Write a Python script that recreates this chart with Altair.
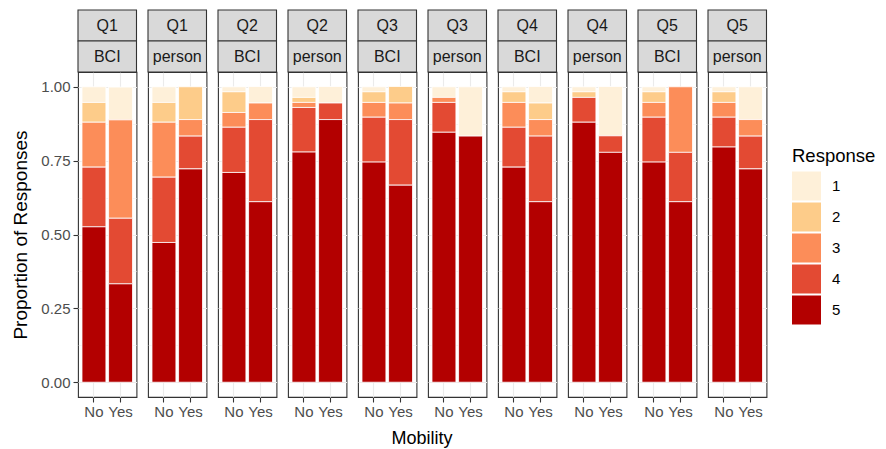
import altair as alt
import pandas as pd

questions = ["Q1", "Q1", "Q2", "Q2", "Q3", "Q3", "Q4", "Q4", "Q5", "Q5"]
sources = ["BCI", "person", "BCI", "person", "BCI", "person", "BCI", "person", "BCI", "person"]
mobility_levels = ["No", "Yes"]
responses = ["1", "2", "3", "4", "5"]
colors = ["#FEF0D9", "#FDCC8A", "#FC8D59", "#E34A33", "#B30000"]

# Proportions for Mobility = No, one value per panel
no_r1 = [0.053, 0.053, 0.017, 0.036, 0.017, 0.036, 0.017, 0.017, 0.017, 0.017]
no_r2 = [0.067, 0.067, 0.070, 0.017, 0.036, 0.000, 0.036, 0.019, 0.036, 0.036]
no_r3 = [0.152, 0.186, 0.050, 0.017, 0.050, 0.017, 0.084, 0.000, 0.050, 0.050]
no_r4 = [0.202, 0.221, 0.153, 0.151, 0.152, 0.101, 0.135, 0.084, 0.152, 0.101]
no_r5 = [0.526, 0.473, 0.710, 0.779, 0.745, 0.846, 0.728, 0.880, 0.745, 0.796]

# Proportions for Mobility = Yes, one value per panel
yes_r1 = [0.111, 0.000, 0.056, 0.056, 0.000, 0.167, 0.056, 0.167, 0.000, 0.111]
yes_r2 = [0.000, 0.111, 0.000, 0.000, 0.056, 0.000, 0.056, 0.000, 0.000, 0.000]
yes_r3 = [0.333, 0.056, 0.056, 0.000, 0.056, 0.000, 0.056, 0.000, 0.222, 0.056]
yes_r4 = [0.222, 0.111, 0.278, 0.056, 0.222, 0.000, 0.222, 0.056, 0.167, 0.111]
yes_r5 = [0.333, 0.722, 0.611, 0.889, 0.667, 0.833, 0.611, 0.778, 0.611, 0.722]

no_lists = [no_r1, no_r2, no_r3, no_r4, no_r5]
yes_lists = [yes_r1, yes_r2, yes_r3, yes_r4, yes_r5]

rows = []
panel_order = []
for i in range(len(questions)):
    panel = f"{questions[i]} {sources[i]}"
    panel_order.append(panel)
    for mob, lists in (("No", no_lists), ("Yes", yes_lists)):
        for r, lst in zip(responses, lists):
            v = lst[i]
            if v > 0 or r == "5":
                rows.append(dict(panel=panel, Q=questions[i], Source=sources[i],
                                 Mobility=mob, Response=r, Proportion=v))
df = pd.DataFrame(rows)

W = 58.5
H = 325
STRIP = 31
GRID = "#EBEBEB"
DARK = "#333333"

base = alt.Chart(df)

bars = base.mark_bar(stroke="white", strokeWidth=0.8).encode(
    x=alt.X("Mobility:N", sort=mobility_levels,
            scale=alt.Scale(paddingInner=0.1, paddingOuter=0.15),
            axis=alt.Axis(title=None, grid=True, gridColor=GRID, gridWidth=1.1,
                          bandPosition=0.5, domain=False, tickColor=DARK,
                          tickSize=5, tickWidth=1.1, labelAngle=0,
                          labelColor="#4D4D4D", labelFontSize=15, labelPadding=2)),
    y=alt.Y("Proportion:Q", stack="zero",
            scale=alt.Scale(domain=[-0.05, 1.05], nice=False, zero=False),
            axis=alt.Axis(title="Proportion of Responses",
                          values=[0, 0.125, 0.25, 0.375, 0.5, 0.625, 0.75, 0.875, 1.0],
                          labelExpr="datum.value % 0.25 === 0 ? format(datum.value, '.2f') : ''",
                          grid=True, gridColor=GRID,
                          gridWidth={"condition": {"test": "datum.value % 0.25 === 0", "value": 1.1}, "value": 0.55},
                          tickOpacity={"condition": {"test": "datum.value % 0.25 === 0", "value": 1}, "value": 0},
                          domain=False, tickColor=DARK, tickSize=5, tickWidth=1.1,
                          labelColor="#4D4D4D", labelFontSize=15, labelPadding=3,
                          titleFontSize=19, titleFontWeight="normal", titleColor="black",
                          titlePadding=10)),
    color=alt.Color("Response:N",
                    scale=alt.Scale(domain=responses, range=colors),
                    legend=alt.Legend(title="Response", orient="none", legendX=714, legendY=75,
                                      titleFontSize=18.5, titleFontWeight="normal", titleColor="black",
                                      titlePadding=6, labelFontSize=15, labelColor="black",
                                      symbolType="square", symbolSize=841, symbolStrokeWidth=0,
                                      symbolOpacity=1, rowPadding=2, labelOffset=11, padding=0)),
    order=alt.Order("Response:N", sort="descending"),
)

strip_base = base.transform_filter("datum.Mobility === 'No' && datum.Response === '5'")

strip1 = strip_base.mark_rect(fill="#D9D9D9", stroke=DARK, strokeWidth=1.1).encode(
    x=alt.value(0), x2=alt.value(W), y=alt.value(-2 * STRIP), y2=alt.value(-STRIP))
strip2 = strip_base.mark_rect(fill="#D9D9D9", stroke=DARK, strokeWidth=1.1).encode(
    x=alt.value(0), x2=alt.value(W), y=alt.value(-STRIP), y2=alt.value(0))
text1 = strip_base.mark_text(fontSize=16, color="#1A1A1A", baseline="middle").encode(
    x=alt.value(W / 2), y=alt.value(-1.5 * STRIP), text="Q:N")
text2 = strip_base.mark_text(fontSize=16, color="#1A1A1A", baseline="middle").encode(
    x=alt.value(W / 2), y=alt.value(-0.5 * STRIP), text="Source:N")

layered = alt.layer(bars, strip1, strip2, text1, text2).properties(width=W, height=H)

chart = layered.facet(
    column=alt.Column("panel:N", sort=panel_order,
                      header=alt.Header(labels=False, labelPadding=0, title="Mobility",
                                        titleOrient="bottom",
                                        titleFontSize=18, titleFontWeight="normal",
                                        titleColor="black", titlePadding=1)),
    spacing=11,
    bounds="flush",
).properties(
    padding={"left": 3, "top": 0, "right": 0, "bottom": 0}
).configure(
    font="Liberation Sans"
).configure_view(
    stroke=DARK, strokeWidth=1.1, fill="white"
)

chart.save("out.html", embed_options={"renderer": "svg", "actions": False})
